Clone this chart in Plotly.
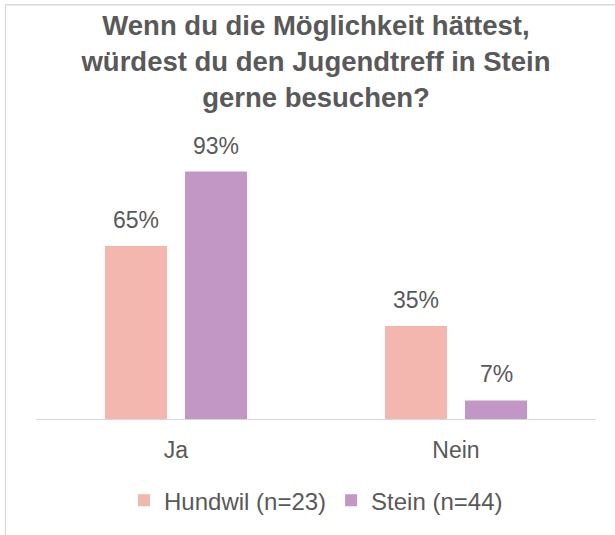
import plotly.graph_objects as go

# ── Data ─────────────────────────────────────────────────────────────────────
categories = ["Ja", "Nein"]
series_names = ["Hundwil (n=23)", "Stein (n=44)"]
hundwil = [0.65, 0.35]
stein = [0.93, 0.07]

COLORS = ["#F4B7AF", "#C397C5"]
TEXT_COLOR = "#595959"
FONT = "Liberation Sans, Arial, sans-serif"

TITLE = ("<b>Wenn du die Möglichkeit hättest,<br>"
         "würdest du den Jugendtreff in Stein<br>"
         "gerne besuchen?</b>")

# plot-area geometry (pixels) used to place the frame line
L, R, T, B = 36, 19, 153, 112
W, H = 615, 535
pw, ph = W - L - R, H - T - B

fig = go.Figure()
for name, vals, color in zip(series_names, [hundwil, stein], COLORS):
    fig.add_trace(go.Bar(
        x=categories, y=vals, name=name,
        marker=dict(color=color, line=dict(width=0)),
        hoverinfo="skip",
    ))

# Data labels above each bar
for k, vals in enumerate([hundwil, stein]):
    shift = -40 if k == 0 else 40
    for cat, v in zip(categories, vals):
        fig.add_annotation(
            x=cat, y=v, xref="x", yref="y",
            text=f"{v:.0%}", showarrow=False,
            xshift=shift, yanchor="bottom", yshift=11,
            font=dict(size=23, color=TEXT_COLOR, family=FONT),
        )

# Outer frame (only top and left edges fall inside the picture)
fig.add_shape(
    type="rect", xref="paper", yref="paper",
    x0=(5.5 - L) / pw, x1=(W + 10 - L) / pw,
    y0=-(B + 10) / ph, y1=(H - B - 2.5) / ph,
    line=dict(color="#D9D9D9", width=1.3), fillcolor="rgba(0,0,0,0)",
    layer="below",
)

fig.update_layout(
    width=W, height=H,
    margin=dict(l=L, r=R, t=T, b=B),
    paper_bgcolor="white", plot_bgcolor="white",
    barmode="group", bargap=0.4286, bargroupgap=0.225,
    title=dict(text=TITLE, x=0.5, xref="paper", xanchor="center",
               y=1 - 35 / H, yref="container", yanchor="top",
               font=dict(size=27.5, color=TEXT_COLOR, family=FONT)),
    font=dict(family=FONT, color=TEXT_COLOR),
    xaxis=dict(showline=True, linecolor="#D9D9D9", linewidth=1.3,
               ticks="outside", ticklen=10, tickcolor="rgba(0,0,0,0)",
               tickfont=dict(size=23, color=TEXT_COLOR),
               showgrid=False, zeroline=False, fixedrange=True),
    yaxis=dict(range=[0, 1], visible=False, showgrid=False,
               zeroline=False, fixedrange=True),
    legend=dict(orientation="h", x=0.5, xanchor="center",
                y=-(506 - (H - B)) / ph, yanchor="middle",
                font=dict(size=24, color=TEXT_COLOR),
                bgcolor="rgba(0,0,0,0)"),
    showlegend=True,
)

fig.write_html("out.html", config={"displayModeBar": False},
               post_script="document.body.style.margin='0';")
